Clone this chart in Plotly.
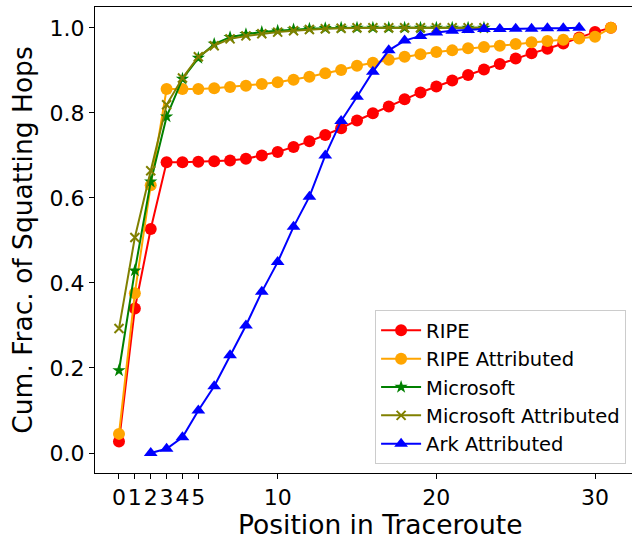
import plotly.graph_objects as go

# Data
pos_ripe = list(range(0, 32))
ripe = [0.027, 0.34, 0.527, 0.684, 0.684, 0.685, 0.686, 0.688, 0.692, 0.700,
        0.708, 0.720, 0.733, 0.748, 0.764, 0.782, 0.799, 0.815, 0.832, 0.848,
        0.862, 0.876, 0.889, 0.902, 0.915, 0.928, 0.940, 0.951, 0.963, 0.977,
        0.990, 1.0]
ripe_attr = [0.045, 0.376, 0.63, 0.856, 0.856, 0.856, 0.858, 0.861, 0.864, 0.868,
             0.872, 0.878, 0.885, 0.893, 0.901, 0.911, 0.918, 0.925, 0.932, 0.938,
             0.943, 0.947, 0.952, 0.955, 0.958, 0.962, 0.966, 0.969, 0.972, 0.975,
             0.979, 1.0]

pos_ms = list(range(0, 24))
ms = [0.194, 0.429, 0.638, 0.791, 0.880, 0.929, 0.962, 0.978, 0.985, 0.990,
      0.993, 0.996, 0.998, 0.999, 1.0, 1.0, 1.0, 1.0, 1.0, 1.0,
      1.0, 1.0, 1.0, 1.0]
ms_attr = [0.293, 0.507, 0.664, 0.819, 0.882, 0.932, 0.958, 0.974, 0.981, 0.986,
           0.990, 0.993, 0.996, 0.998, 0.999, 1.0, 1.0, 1.0, 1.0, 1.0,
           1.0, 1.0, 1.0, 1.0]

pos_ark = list(range(2, 30))
ark_attr = [0.0, 0.01, 0.037, 0.10, 0.157, 0.23, 0.30, 0.379, 0.449, 0.532,
            0.603, 0.70, 0.781, 0.838, 0.897, 0.947, 0.970, 0.981, 0.989, 0.993,
            0.995, 0.997, 0.997, 0.998, 0.998, 0.999, 0.999, 1.0]

xtick_vals = [0, 1, 2, 3, 4, 5, 10, 20, 30]
ytick_vals = [0.0, 0.2, 0.4, 0.6, 0.8, 1.0]

fig = go.Figure()

def add(x, y, name, color, symbol, size=12, mline=0):
    fig.add_trace(go.Scatter(x=x, y=y, name=name, mode='lines+markers',
                             line=dict(color=color, width=2),
                             marker=dict(color=color, symbol=symbol, size=size,
                                         line=dict(color=color, width=mline))))

add(pos_ripe, ripe, "RIPE", "red", "circle")
add(pos_ripe, ripe_attr, "RIPE Attributed", "orange", "circle")
add(pos_ms, ms, "Microsoft", "green", "star", size=10)
add(pos_ms, ms_attr, "Microsoft Attributed", "olive", "x-thin", size=9, mline=2)
add(pos_ark, ark_attr, "Ark Attributed", "blue", "triangle-up", size=12)

# top spine via x mirror; the right spine lies outside the cropped original, so none here
fig.update_xaxes(range=[-1.512, 32.33],
                 tickvals=xtick_vals, ticktext=[str(v) for v in xtick_vals], tickangle=0,
                 showline=True, linecolor="black", linewidth=1, mirror=True,
                 ticks="outside", ticklen=5, tickcolor="black",
                 showgrid=False, zeroline=False, automargin=False,
                 tickfont=dict(size=22))
fig.update_yaxes(title_text="Cum. Frac. of Squatting Hops", range=[-0.047, 1.049],
                 tickvals=ytick_vals, ticktext=["%.1f" % v for v in ytick_vals],
                 showline=True, linecolor="black", linewidth=1, mirror=False,
                 ticks="outside", ticklen=5, tickcolor="black",
                 showgrid=False, zeroline=False, automargin=False,
                 tickfont=dict(size=22), title_font=dict(size=26.5), title_standoff=9)

# x label as annotation: in the original the axes run past the right edge of the image,
# so the label is centred right of the visible plot area
fig.add_annotation(text="Position in Traceroute", xref="paper", yref="paper",
                   x=0.531, y=-0.074, xanchor="center", yanchor="top",
                   showarrow=False, font=dict(size=26.5, color="black"))

fig.update_layout(
        template="simple_white",
        width=632, height=542,
        margin=dict(l=95, r=0, t=7, b=69, autoexpand=False),
        font=dict(family="DejaVu Sans", color="black", size=16),
        plot_bgcolor="white", paper_bgcolor="white",
        legend=dict(x=0.989, y=0.019, xanchor="right", yanchor="bottom",
                    bgcolor="rgba(255,255,255,0.8)", bordercolor="#cccccc", borderwidth=1,
                    font=dict(size=19.5), itemwidth=40, tracegroupgap=0))

# page body has an 8px default margin; drop it so the figure sits at the window corner
fig.write_html("out.html", post_script="document.body.style.margin='0';",
               config={"displayModeBar": False})
